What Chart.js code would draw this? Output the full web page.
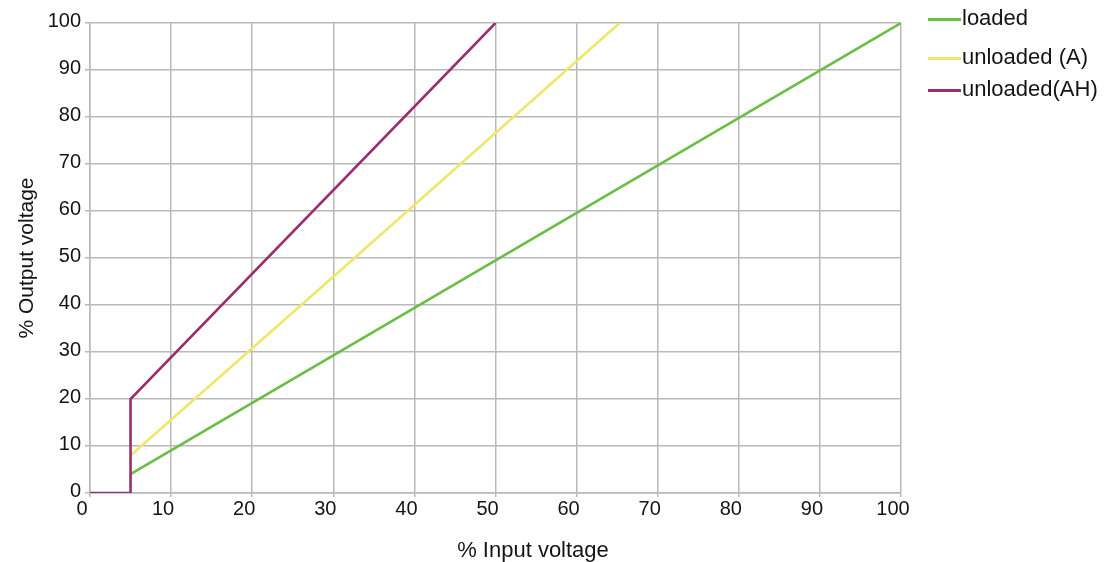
<!DOCTYPE html>
<html>
<head>
<meta charset="utf-8">
<script src="https://cdn.jsdelivr.net/npm/chart.js@4"></script>
<style>
  body { margin: 0; background: #fff; font-family: "Liberation Sans", Arial, sans-serif; color: #141414; }
  #wrap { position: relative; width: 1107px; height: 562px; }
  #legend { position: absolute; left: 928px; top: 0; font-size: 22px; }
  .item { position: absolute; left: 0; white-space: nowrap; height: 24px; line-height: 24px; }
  .item span.sw { position: absolute; left: 0; top: 11px; width: 33px; height: 3px; }
  .item span.tx { position: absolute; left: 34px; top: -1px; }
  #xtitle { position: absolute; left: 533px; top: 537px; transform: translateX(-50%); font-size: 22px; white-space: nowrap; }
</style>
</head>
<body>
<div id="wrap">
  <canvas id="chart" width="1107" height="562"></canvas>
  <div id="legend"></div>
  <div id="xtitle">% Input voltage</div>
</div>
<script>
// Datos
const seriesNames = ["loaded", "unloaded (A)", "unloaded(AH)"];
const seriesColors = ["#6bbd45", "#ede86a", "#9a2f6b"];

const loadedX = [5, 100];
const loadedY = [4, 100];

const unloadedAX = [5, 30, 65.3];
const unloadedAY = [8, 46, 100];

const unloadedAHX = [0, 5, 5, 50];
const unloadedAHY = [0, 0, 20, 100];

const xTicks = [0, 10, 20, 30, 40, 50, 60, 70, 80, 90, 100];
const yTicks = [0, 10, 20, 30, 40, 50, 60, 70, 80, 90, 100];

// Convierte arrays x / y a puntos
function toPoints(xs, ys){
    return xs.map((x, i) => ({ x: x, y: ys[i] }));
}

const gridColor = "#b9b9b9";
const textColor = "#141414";
const tickFont = { family: "'Liberation Sans', Arial, sans-serif", size: 20 };
const titleFont = { family: "'Liberation Sans', Arial, sans-serif", size: 21 };

const data = {
    datasets: [
        { label: seriesNames[0], data: toPoints(loadedX, loadedY), borderColor: seriesColors[0], order: 2 },
        { label: seriesNames[1], data: toPoints(unloadedAX, unloadedAY), borderColor: seriesColors[1], order: 1 },
        { label: seriesNames[2], data: toPoints(unloadedAHX, unloadedAHY), borderColor: seriesColors[2], order: 0 }
    ].map(ds => Object.assign(ds, { borderWidth: 2.6, pointRadius: 0, tension: 0, fill: false }))
};

const config = {
    type: "line",
    data,
    options: {
        responsive: false,
        animation: false,
        layout: { padding: { left: 0, right: 206, top: 23, bottom: 0 } },
        plugins: { legend: { display: false }, tooltip: { enabled: false } },
        scales: {
            x: {
                type: "linear",
                min: 0,
                max: 100,
                afterFit: (scale) => { scale.height = 69; },
                afterBuildTicks: (scale) => { scale.ticks = xTicks.map(v => ({ value: v })); },
                ticks: { font: tickFont, color: textColor, padding: 0, labelOffset: -8, maxRotation: 0 },
                grid: { color: gridColor, lineWidth: 1.5, tickLength: 4 },
                border: { color: gridColor, width: 1.5 }
            },
            y: {
                min: 0,
                max: 100,
                afterFit: (scale) => { scale.width = 90; },
                afterBuildTicks: (scale) => { scale.ticks = yTicks.map(v => ({ value: v })); },
                ticks: { font: tickFont, color: textColor, padding: 4, labelOffset: -2 },
                grid: { color: gridColor, lineWidth: 1.5, tickLength: 5 },
                border: { color: gridColor, width: 1.5 },
                title: { display: true, text: "% Output voltage", font: titleFont, color: textColor, padding: { top: 15, bottom: 0 } }
            }
        }
    }
};

new Chart(document.getElementById("chart"), config);

// Leyenda a la derecha
const legendTops = [7, 46, 78];
const legend = document.getElementById("legend");
seriesNames.forEach((name, i) => {
    const item = document.createElement("div");
    item.className = "item";
    item.style.top = legendTops[i] + "px";
    item.innerHTML = `<span class="sw" style="background:${seriesColors[i]}"></span><span class="tx">${name}</span>`;
    legend.appendChild(item);
});
</script>
</body>
</html>
